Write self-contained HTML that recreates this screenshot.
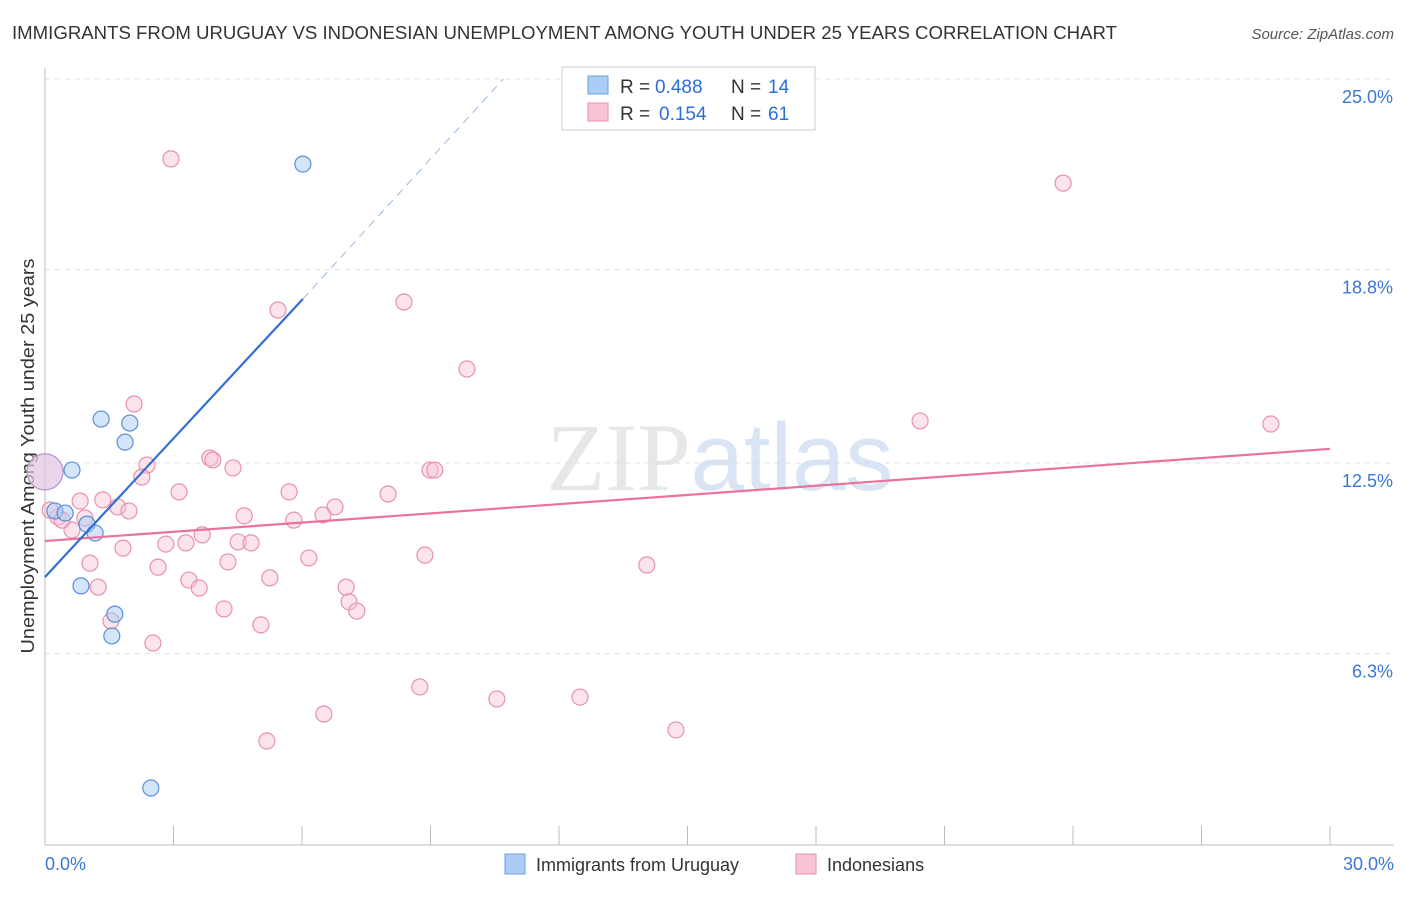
<!DOCTYPE html>
<html><head><meta charset="utf-8"><style>
body{margin:0;background:#fff;font-family:"Liberation Sans",sans-serif;}
</style></head><body>
<svg id="chart" width="1406" height="892" xmlns="http://www.w3.org/2000/svg" font-family="Liberation Sans, sans-serif">
<text x="12" y="39" font-size="18" textLength="1105" lengthAdjust="spacingAndGlyphs" fill="#333">IMMIGRANTS FROM URUGUAY VS INDONESIAN UNEMPLOYMENT AMONG YOUTH UNDER 25 YEARS CORRELATION CHART</text>
<text x="1394" y="39" font-size="15" fill="#555" text-anchor="end" font-style="italic">Source: ZipAtlas.com</text>
<text transform="translate(34,456) rotate(-90)" font-size="18" textLength="395" lengthAdjust="spacingAndGlyphs" fill="#333" text-anchor="middle">Unemployment Among Youth under 25 years</text>
<g id="grid"></g>
<text x="720" y="490" font-size="96" text-anchor="middle" fill="#ddd" opacity="0.7"><tspan font-family="Liberation Serif, serif">ZIP</tspan><tspan fill="#c9daf0">atlas</tspan></text>
<g id="marks"></g>
<g>
<rect x="562" y="67" width="253" height="63" fill="#fff" stroke="#ccc"/>
<rect x="588" y="76" width="20" height="18" fill="#aaccf5" stroke="#6a9fe0"/>
<rect x="588" y="103" width="20" height="18" fill="#f9c3d6" stroke="#e890b0"/>
<text x="620" y="93" font-size="19" fill="#333">R =</text>
<text x="655" y="93" font-size="19" fill="#2b6fd6">0.488</text>
<text x="731" y="93" font-size="19" fill="#333">N =</text>
<text x="768" y="93" font-size="19" fill="#2b6fd6">14</text>
<text x="620" y="120" font-size="19" fill="#333">R =</text>
<text x="659" y="120" font-size="19" fill="#2b6fd6">0.154</text>
<text x="731" y="120" font-size="19" fill="#333">N =</text>
<text x="768" y="120" font-size="19" fill="#2b6fd6">61</text>
</g>
<g>
<rect x="505" y="854" width="20" height="20" fill="#aaccf5" stroke="#6a9fe0"/>
<text x="536" y="871" font-size="18" fill="#333">Immigrants from Uruguay</text>
<rect x="796" y="854" width="20" height="20" fill="#f9c3d6" stroke="#e890b0"/>
<text x="827" y="871" font-size="18" fill="#333">Indonesians</text>
</g>
</svg>
<script>
const yTicks=[25.0,18.8,12.5,6.3];
const yTickLabels=["25.0%","18.8%","12.5%","6.3%"];
const xEdgeLabels=["0.0%","30.0%"];
const blueX=[6.02,1.31,1.98,1.87,0.63,0,0.23,0.47,0.98,1.17,0.84,1.63,1.56,2.47];
const blueY=[22.23,13.93,13.80,13.18,12.27,12.21,10.94,10.87,10.51,10.22,8.50,7.58,6.87,1.92];
const pinkX=[2.94,23.77,8.38,5.44,9.85,2.08,20.43,28.62,2.38,3.85,3.92,4.39,2.26,3.13,5.70,8.01,8.99,9.10,0.82,1.35,1.70,1.96,0.30,0.93,0.63,6.77,4.65,5.81,6.49,3.67,3.29,2.82,4.51,4.81,1.82,6.16,8.87,1.05,2.64,4.27,14.05,3.36,5.25,3.60,1.24,7.03,7.10,7.28,4.18,1.54,5.04,2.52,8.75,10.55,12.49,6.51,14.73,5.18,0,0.40,0.12];
const pinkY=[22.40,21.61,17.74,17.48,15.56,14.42,13.87,13.77,12.43,12.66,12.60,12.34,12.04,11.56,11.56,11.49,12.27,12.27,11.26,11.30,11.07,10.94,10.74,10.71,10.32,11.07,10.78,10.64,10.81,10.16,9.90,9.86,9.93,9.90,9.73,9.41,9.50,9.24,9.11,9.28,9.18,8.69,8.76,8.43,8.46,8.46,7.98,7.68,7.75,7.36,7.23,6.64,5.21,4.82,4.88,4.33,3.81,3.45,12.21,10.64,10.97];
const blueLine=[0,8.79,6.02,17.84,10.7,25];
const pinkLine=[0,9.96,30,12.96];
const NS="http://www.w3.org/2000/svg";
const xs=v=>45+v/30*1285;
const ys=v=>79+(25-v)*30.72;
function mk(t,a,parent){const e=document.createElementNS(NS,t);for(const k in a)e.setAttribute(k,a[k]);parent.appendChild(e);return e;}
const grid=document.getElementById('grid'),marks=document.getElementById('marks');
yTicks.forEach((t,i)=>{
 const l=mk('line',{x1:45,x2:1394,y1:ys(t),y2:ys(t),stroke:'#e2e2e2','stroke-dasharray':'5,5'},grid);
 
 
 const tx=mk('text',{x:1393,y:ys(t)+24,'font-size':18,fill:'#3a78d6','text-anchor':'end'},grid);
 tx.textContent=yTickLabels[i];
 
 
});
const ax=mk('line',{x1:45,x2:45,y1:68,y2:845,stroke:'#bbb'},grid);


const bx=mk('line',{x1:45,x2:1394,y1:845,y2:845,stroke:'#bbb'},grid);


for(let i=0;i<=10;i++){const t=mk('line',{x1:xs(i*3),x2:xs(i*3),y1:826,y2:845,stroke:'#bbb'},grid);
 
 }
[[0,'start',45],[30,'end',1394]].forEach((d,i)=>{const t=mk('text',{x:d[2],y:870,'font-size':18,fill:'#3a78d6','text-anchor':d[1]},grid);t.textContent=xEdgeLabels[i];
 
 });
pinkX.forEach((x,i)=>{const big=(x===0);const c=mk('circle',{cx:xs(x),cy:ys(pinkY[i]),r:big?18:8,fill:'#f9c3d6','fill-opacity':0.45,stroke:'#e890b0','stroke-width':1.2},marks);
 
 });
blueX.forEach((x,i)=>{const big=(x===0);const c=mk('circle',{cx:xs(x),cy:ys(blueY[i]),r:big?18:8,fill:big?'#d8c8ea':'#aaccf5','fill-opacity':0.5,stroke:big?'#b49ad0':'#5a8fd8','stroke-width':1.2},marks);
 
 });
const pl=mk('line',{x1:xs(pinkLine[0]),y1:ys(pinkLine[1]),x2:xs(pinkLine[2]),y2:ys(pinkLine[3]),stroke:'#e8739c','stroke-width':2.2},marks);


const bl=mk('line',{x1:xs(blueLine[0]),y1:ys(blueLine[1]),x2:xs(blueLine[2]),y2:ys(blueLine[3]),stroke:'#2f6fd6','stroke-width':2.2},marks);


const bd=mk('line',{x1:xs(blueLine[2]),y1:ys(blueLine[3]),x2:xs(blueLine[4]),y2:ys(blueLine[5]),stroke:'#9bb8e0','stroke-width':1,'stroke-dasharray':'8,6'},marks);


</script>
</body></html>
